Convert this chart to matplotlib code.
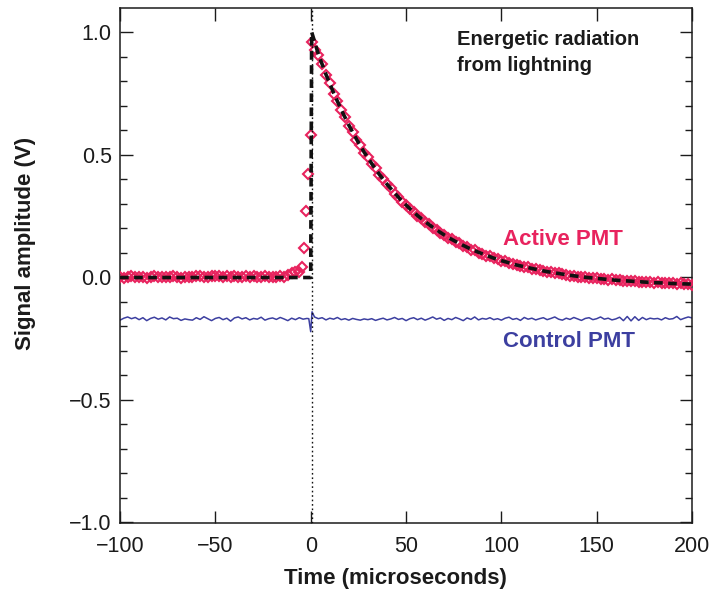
import numpy as np
import matplotlib
matplotlib.use("Agg")
import matplotlib.pyplot as plt
from matplotlib.ticker import MultipleLocator

plt.rcParams['font.family'] = ['Liberation Sans', 'DejaVu Sans']

# ---------------- data ----------------
# Active PMT (diamond markers)
active_t_pre = np.arange(-100, -13, 2)          # -100 .. -14
active_v_pre = [0.000, -0.002, 0.001, 0.003, -0.001, 0.000, 0.002, -0.002, 0.001, 0.004,
                0.000, -0.001, 0.002, 0.001, 0.003, 0.000, -0.002, 0.001, 0.002, 0.000,
                0.003, 0.005, 0.002, 0.001, 0.004, 0.003, 0.006, 0.002, 0.004, 0.001,
                0.003, 0.000, 0.002, 0.005, 0.001, 0.003, 0.002, 0.000, 0.004, 0.001,
                0.002, 0.000, 0.003, 0.001]
active_t_rise = [-12, -10, -8, -6, -4.7, -3.5, -2.3, -1.4, 0.0, 0.5]
active_v_rise = [0.010, 0.016, 0.019, 0.021, 0.040, 0.120, 0.270, 0.420, 0.580, 0.960]
active_t_decay = np.arange(2, 201, 2)           # 2 .. 200
active_v_decay = [0.925, 0.906, 0.870, 0.824, 0.790, 0.748, 0.719, 0.681, 0.654, 0.618,
                  0.594, 0.560, 0.538, 0.507, 0.489, 0.461, 0.443, 0.416, 0.401, 0.378,
                  0.363, 0.340, 0.328, 0.307, 0.296, 0.277, 0.267, 0.250, 0.241, 0.224,
                  0.216, 0.201, 0.194, 0.180, 0.173, 0.161, 0.156, 0.143, 0.138, 0.127,
                  0.123, 0.112, 0.109, 0.099, 0.096, 0.087, 0.085, 0.076, 0.074, 0.066,
                  0.064, 0.057, 0.055, 0.048, 0.047, 0.040, 0.039, 0.034, 0.032, 0.027,
                  0.026, 0.021, 0.020, 0.016, 0.015, 0.011, 0.010, 0.006, 0.006, 0.002,
                  0.002, -0.001, -0.002, -0.005, -0.005, -0.008, -0.007, -0.011, -0.010, -0.013,
                  -0.013, -0.016, -0.015, -0.018, -0.017, -0.020, -0.019, -0.022, -0.021, -0.023,
                  -0.022, -0.025, -0.024, -0.026, -0.025, -0.028, -0.026, -0.029, -0.027, -0.031]

# Fitted curve (dashed black)
fit_t = [-100, 0.0, 0.5, 4, 8, 12, 16, 20, 24, 28, 32, 36, 40, 44, 48, 52, 56, 60, 64, 68,
         72, 76, 80, 84, 88, 92, 96, 100, 104, 108, 112, 116, 120, 124, 128, 132, 136, 140,
         144, 148, 152, 156, 160, 164, 168, 172, 176, 180, 184, 188, 192, 196, 200]
fit_v = [-0.002, -0.002, 1.000, 0.910, 0.827, 0.752, 0.683, 0.620, 0.563, 0.510, 0.463,
         0.419, 0.379, 0.343, 0.309, 0.279, 0.251, 0.226, 0.203, 0.182, 0.162, 0.145,
         0.129, 0.114, 0.101, 0.089, 0.077, 0.067, 0.058, 0.049, 0.042, 0.035, 0.028,
         0.022, 0.017, 0.012, 0.007, 0.003, -0.001, -0.004, -0.007, -0.010, -0.013,
         -0.015, -0.017, -0.019, -0.021, -0.023, -0.024, -0.026, -0.027, -0.028, -0.029]

# Control PMT (blue line)
control_t_pre = np.arange(-100, -1, 2)          # -100 .. -2
control_v_pre = [-0.176, -0.168, -0.163, -0.170, -0.165, -0.174, -0.166, -0.178, -0.169, -0.164,
                 -0.172, -0.167, -0.175, -0.163, -0.170, -0.168, -0.177, -0.171, -0.174, -0.176,
                 -0.166, -0.173, -0.162, -0.170, -0.178, -0.169, -0.165, -0.174, -0.168, -0.180,
                 -0.167, -0.163, -0.171, -0.166, -0.175, -0.169, -0.172, -0.164, -0.176, -0.170,
                 -0.167, -0.173, -0.165, -0.171, -0.178, -0.168, -0.174, -0.166, -0.172, -0.169]
control_t_spike = [-1, 0.0, 0.7]
control_v_spike = [-0.170, -0.223, -0.142]
control_t_post = np.arange(2, 201, 2)           # 2 .. 200
control_v_post = [-0.163, -0.170, -0.166, -0.175, -0.168, -0.172, -0.165, -0.174, -0.170, -0.176,
                  -0.169, -0.173, -0.176, -0.171, -0.174, -0.170, -0.177, -0.172, -0.168, -0.175,
                  -0.171, -0.165, -0.173, -0.169, -0.178, -0.170, -0.166, -0.174, -0.168, -0.176,
                  -0.170, -0.163, -0.172, -0.167, -0.177, -0.169, -0.174, -0.165, -0.171, -0.178,
                  -0.167, -0.173, -0.163, -0.175, -0.169, -0.172, -0.166, -0.174, -0.170, -0.176,
                  -0.168, -0.164, -0.173, -0.169, -0.177, -0.165, -0.172, -0.168, -0.175, -0.170,
                  -0.166, -0.174, -0.169, -0.163, -0.172, -0.176, -0.168, -0.173, -0.165, -0.171,
                  -0.177, -0.169, -0.166, -0.174, -0.170, -0.163, -0.172, -0.168, -0.175, -0.171,
                  -0.164, -0.178, -0.161, -0.179, -0.162, -0.177, -0.165, -0.174, -0.168, -0.171,
                  -0.169, -0.175, -0.166, -0.172, -0.170, -0.161, -0.174, -0.168, -0.163, -0.167]

trigger_time = 0.5

x_ticks = [-100, -50, 0, 50, 100, 150, 200]
y_ticks = [-1.0, -0.5, 0.0, 0.5, 1.0]

active_t = np.concatenate([active_t_pre, active_t_rise, active_t_decay])
active_v = np.concatenate([active_v_pre, active_v_rise, active_v_decay])
control_t = np.concatenate([control_t_pre, control_t_spike, control_t_post])
control_v = np.concatenate([control_v_pre, control_v_spike, control_v_post])

# ---------------- plot ----------------
pink = '#E8235E'
blue = '#3C3FA0'
dark = '#1b1b1b'

fig = plt.figure(figsize=(7.09, 5.94), dpi=100)
ax = fig.add_axes([0.1693, 0.1195, 0.8068, 0.867])

ax.plot(control_t, control_v, color=blue, lw=1.1, zorder=2)
ax.plot(active_t, active_v, linestyle='none', marker='D', markersize=5.0,
        markerfacecolor='none', markeredgecolor=pink, markeredgewidth=1.5, zorder=3)
ax.plot(fit_t, fit_v, color='#111111', lw=2.6, linestyle=(0, (2.4, 1.5)), zorder=4)
ax.axvline(trigger_time, color='#111111', lw=1.0, linestyle=(0, (1.2, 2.0)), zorder=5)

ax.set_xlim(-100, 200)
ax.set_ylim(-1.004, 1.098)
ax.set_xticks(x_ticks)
ax.set_yticks(y_ticks)
ax.set_xticklabels([f"{v:g}".replace('-', '\u2212') for v in x_ticks])
ax.set_yticklabels([f"{v:.1f}".replace('-', '\u2212') for v in y_ticks])
ax.yaxis.set_minor_locator(MultipleLocator(0.1))

ax.tick_params(which='both', direction='in', top=True, right=True, colors=dark,
               labelsize=15.5, width=1.0)
ax.tick_params(which='major', length=9)
ax.tick_params(which='minor', length=5)
ax.tick_params(axis='x', pad=9)
ax.tick_params(axis='y', pad=6)
for s in ax.spines.values():
    s.set_linewidth(1.1)
    s.set_color(dark)

ax.set_xlabel('Time (microseconds)', fontsize=16, fontweight='bold', color=dark, va='center')
ax.set_ylabel('Signal amplitude (V)', fontsize=16, fontweight='bold', color=dark, va='center')
ax.xaxis.set_label_coords(0.481, -0.107)
ax.yaxis.set_label_coords(-0.166, 0.543)

ax.text(76.7, 0.916, 'Energetic radiation\nfrom lightning', fontsize=14.5, fontweight='bold',
        color=dark, ha='left', va='center', linespacing=1.45)
ax.text(100.8, 0.155, 'Active PMT', fontsize=16, fontweight='bold', color=pink,
        ha='left', va='center')
ax.text(100.8, -0.265, 'Control PMT', fontsize=16, fontweight='bold', color=blue,
        ha='left', va='center')

fig.savefig('out.png', dpi=100)
